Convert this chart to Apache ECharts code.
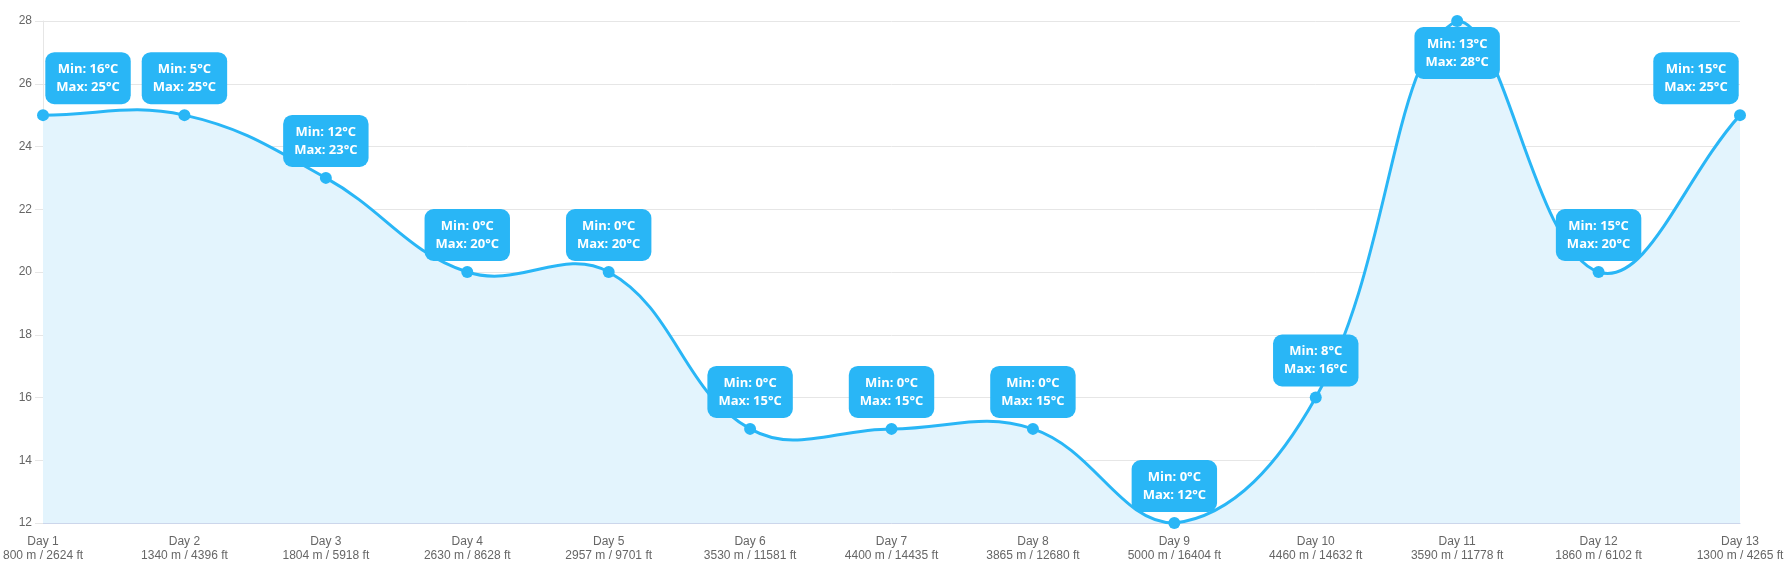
<!DOCTYPE html>
<html>
<head>
<meta charset="utf-8">
<script src="https://cdn.jsdelivr.net/npm/echarts@6/dist/echarts.min.js"></script>
<style>
  html, body { margin: 0; padding: 0; background: #fff; }
  #chart { width: 1787px; height: 583px; }
</style>
</head>
<body>
<div id="chart"></div>
<script>
var days = ['Day 1', 'Day 2', 'Day 3', 'Day 4', 'Day 5', 'Day 6', 'Day 7', 'Day 8', 'Day 9', 'Day 10', 'Day 11', 'Day 12', 'Day 13'];
var elevM = [800, 1340, 1804, 2630, 2957, 3530, 4400, 3865, 5000, 4460, 3590, 1860, 1300];
var elevFt = [2624, 4396, 5918, 8628, 9701, 11581, 14435, 12680, 16404, 14632, 11778, 6102, 4265];
var maxTemps = [25, 25, 23, 20, 20, 15, 15, 15, 12, 16, 28, 20, 25];
var minTemps = [16, 5, 12, 0, 0, 0, 0, 0, 0, 8, 13, 15, 15];
var yTicks = [12, 14, 16, 18, 20, 22, 24, 26, 28];

var lineColor = '#29b6f6';
var tension = 0.4;

var myChart = echarts.init(document.getElementById('chart'));

function clamp(v, a, b) { return Math.max(a, Math.min(b, v)); }

// 曲线控制点（tension 样条，控制点限制在绘图区内）
function curvePath(pts, box) {
    var n = pts.length;
    var cps = pts.map(function (cur, i) {
        var prev = i > 0 ? pts[i - 1] : cur;
        var next = i < n - 1 ? pts[i + 1] : cur;
        var d01 = Math.hypot(cur[0] - prev[0], cur[1] - prev[1]);
        var d12 = Math.hypot(next[0] - cur[0], next[1] - cur[1]);
        var s01 = d01 / (d01 + d12), s12 = d12 / (d01 + d12);
        if (isNaN(s01)) s01 = 0;
        if (isNaN(s12)) s12 = 0;
        var fa = tension * s01, fb = tension * s12;
        return {
            c1x: clamp(cur[0] - fa * (next[0] - prev[0]), box.left, box.right),
            c1y: clamp(cur[1] - fa * (next[1] - prev[1]), box.top, box.bottom),
            c2x: clamp(cur[0] + fb * (next[0] - prev[0]), box.left, box.right),
            c2y: clamp(cur[1] + fb * (next[1] - prev[1]), box.top, box.bottom)
        };
    });
    var d = 'M' + pts[0][0] + ',' + pts[0][1];
    for (var i = 1; i < n; i++) {
        d += 'C' + cps[i - 1].c2x + ',' + cps[i - 1].c2y + ',' + cps[i].c1x + ',' + cps[i].c1y + ',' + pts[i][0] + ',' + pts[i][1];
    }
    return d;
}

function renderCurve(params, api) {
    var pts = maxTemps.map(function (v, i) { return api.coord([i, v]); });
    var lt = api.coord([0, yTicks[yTicks.length - 1]]);
    var rb = api.coord([days.length - 1, yTicks[0]]);
    var box = { left: lt[0], top: lt[1], right: rb[0], bottom: rb[1] };
    var d = curvePath(pts, box);
    var area = d + 'L' + pts[pts.length - 1][0] + ',' + box.bottom + 'L' + pts[0][0] + ',' + box.bottom + 'Z';
    return {
        type: 'group',
        children: [{
            type: 'path',
            shape: { pathData: area },
            style: { fill: '#e3f4fd', stroke: null }
        }, {
            type: 'path',
            shape: { pathData: d },
            style: { fill: null, stroke: lineColor, lineWidth: 3 }
        }]
    };
}

// 标签：首尾两点左右挪一下，最高点放到下面
var seriesData = maxTemps.map(function (v, i) {
    var item = { value: v };
    if (i === 0) item.label = { offset: [45, 0] };
    if (i === maxTemps.length - 1) item.label = { offset: [-44, 0] };
    if (v === yTicks[yTicks.length - 1]) item.label = { position: 'bottom', distance: 0 };
    return item;
});

var option = {
    backgroundColor: '#fff',
    animation: false,
    grid: {
        left: 43,
        right: 47,
        top: 21,
        bottom: 60
    },
    xAxis: {
        type: 'category',
        data: days,
        boundaryGap: false,
        axisLine: { lineStyle: { color: '#ccd6eb' } },
        axisTick: { show: false },
        axisLabel: {
            margin: 12,
            color: '#666666',
            fontSize: 12,
            lineHeight: 14,
            fontFamily: 'Liberation Sans, Arial, sans-serif',
            formatter: function (val, idx) {
                return val + '\n' + elevM[idx] + ' m / ' + elevFt[idx] + ' ft';
            }
        }
    },
    yAxis: {
        type: 'value',
        min: yTicks[0],
        max: yTicks[yTicks.length - 1],
        interval: 2,
        axisLine: { show: true, lineStyle: { color: '#e6e6e6' } },
        axisTick: { show: true, length: 8, lineStyle: { color: '#e6e6e6' } },
        axisLabel: {
            margin: 11,
            color: '#666666',
            fontSize: 12,
            fontFamily: 'Liberation Sans, Arial, sans-serif'
        },
        splitLine: { lineStyle: { color: '#e6e6e6' } }
    },
    series: [{
        type: 'custom',
        data: [[0, maxTemps[0]]],
        renderItem: renderCurve,
        silent: true,
        z: 1
    }, {
        type: 'line',
        data: seriesData,
        symbol: 'circle',
        symbolSize: 12,
        itemStyle: { color: lineColor },
        lineStyle: { width: 0, opacity: 0 },
        z: 3,
        label: {
            show: true,
            position: 'top',
            distance: 5,
            backgroundColor: lineColor,
            borderRadius: 9,
            padding: [8, 11, 8, 11],
            color: '#fff',
            fontWeight: 'bold',
            fontSize: 13,
            lineHeight: 18,
            fontFamily: 'Open Sans, sans-serif',
            formatter: function (p) {
                return 'Min: ' + minTemps[p.dataIndex] + '°C\nMax: ' + maxTemps[p.dataIndex] + '°C';
            }
        }
    }]
};
myChart.setOption(option);
</script>
</body>
</html>
